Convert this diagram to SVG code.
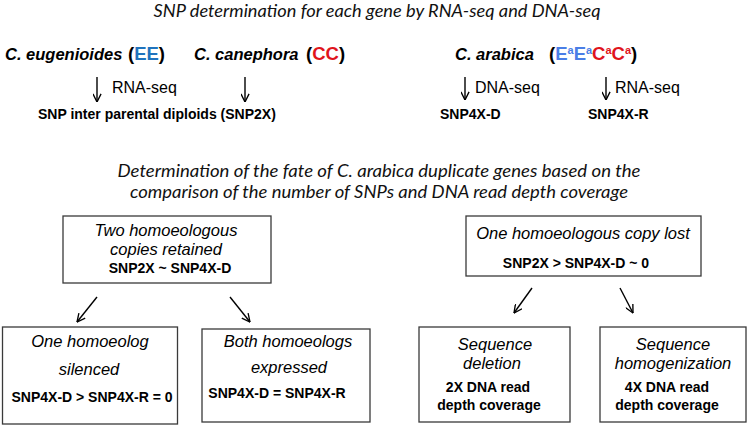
<svg xmlns="http://www.w3.org/2000/svg" width="749" height="426" viewBox="0 0 749 426">
<defs>
<style>
.t{font-family:"Liberation Sans",Arial,sans-serif;fill:#000}
.i{font-style:italic}
.b{font-weight:bold}
.bi{font-weight:bold;font-style:italic;font-size:16.5px}
.par{font-weight:bold;font-size:18.5px}
.hd{font-family:Lato,"Open Sans",sans-serif;font-style:italic;font-size:16.5px;fill:#111}
.seq{font-size:16px}
.sb{font-weight:bold;font-size:14px}
.bx{font-style:italic;font-size:16.5px}
.box{fill:#fff;stroke:#3a3a3a;stroke-width:1.3}
.arr{stroke:#000;stroke-width:1.4;fill:none;marker-end:url(#ah)}
.blue1{fill:#1f73bd}
.blue2{fill:#4a7ee6}
.red{fill:#e0141c}
</style>
<marker id="ah" viewBox="0 0 10 10" refX="9.5" refY="5" markerWidth="9" markerHeight="9" orient="auto" markerUnits="userSpaceOnUse">
<path d="M0.5,0.5 L9.5,5 L0.5,9.5" fill="none" stroke="#000" stroke-width="1.5"/>
</marker>
</defs>
<rect width="749" height="426" fill="#fff"/>

<g id="title">
<text class="hd" x="377" y="17" text-anchor="middle" textLength="447" lengthAdjust="spacingAndGlyphs">SNP determination for each gene by RNA-seq and DNA-seq</text>
</g>

<g id="species-eugenioides">
<text class="t bi" x="5" y="60">C. eugenioides</text>
<text class="t par" x="128" y="60">(<tspan class="blue1">EE</tspan>)</text>
</g>
<g id="species-canephora">
<text class="t bi" x="194" y="60">C. canephora</text>
<text class="t par" x="306" y="60">(<tspan class="red">CC</tspan>)</text>
</g>
<g id="species-arabica">
<text class="t bi" x="455" y="60">C. arabica</text>
<text class="t par" x="549" y="60">(<tspan class="blue2">E</tspan><tspan class="blue2" font-size="11" dy="-6">a</tspan><tspan class="blue2" dy="6">E</tspan><tspan class="blue2" font-size="11" dy="-6">a</tspan><tspan class="red" dy="6">C</tspan><tspan class="red" font-size="11" dy="-6">a</tspan><tspan class="red" dy="6">C</tspan><tspan class="red" font-size="11" dy="-6">a</tspan><tspan dy="6">)</tspan></text>
</g>

<g id="label-rnaseq-left"><text class="t seq" x="112" y="93">RNA-seq</text></g>
<g id="label-dnaseq"><text class="t seq" x="475" y="93">DNA-seq</text></g>
<g id="label-rnaseq-right"><text class="t seq" x="615" y="93">RNA-seq</text></g>

<g id="snp2x"><text class="t sb" x="38" y="119">SNP inter parental diploids (SNP2X)</text></g>
<g id="snp4xd"><text class="t sb" x="440" y="119">SNP4X-D</text></g>
<g id="snp4xr"><text class="t sb" x="588" y="119">SNP4X-R</text></g>

<g id="subtitle">
<text class="hd" x="379" y="177" text-anchor="middle" textLength="523" lengthAdjust="spacingAndGlyphs">Determination of the fate of C. arabica duplicate genes based on the</text>
<text class="hd" x="379" y="198" text-anchor="middle" textLength="498" lengthAdjust="spacingAndGlyphs">comparison of the number of SNPs and DNA read depth coverage</text>
</g>

<g id="box-retained">
<rect class="box" x="63" y="216" width="208" height="67"/>
<text class="t bx" x="166" y="236" text-anchor="middle">Two homoeologous</text>
<text class="t bx" x="166" y="255" text-anchor="middle">copies retained</text>
<text class="t sb" x="170" y="273" text-anchor="middle">SNP2X ~ SNP4X-D</text>
</g>

<g id="box-lost">
<rect class="box" x="466" y="216" width="235" height="60"/>
<text class="t bx" x="583" y="239" text-anchor="middle">One homoeologous copy lost</text>
<text class="t sb" x="576" y="268" text-anchor="middle">SNP2X &gt; SNP4X-D ~ 0</text>
</g>

<g id="box-silenced">
<rect class="box" x="2.5" y="327" width="175" height="97"/>
<text class="t bx" x="90" y="347" text-anchor="middle">One homoeolog</text>
<text class="t bx" x="89" y="375" text-anchor="middle">silenced</text>
<text class="t sb" x="92" y="402" text-anchor="middle">SNP4X-D &gt; SNP4X-R = 0</text>
</g>

<g id="box-expressed">
<rect class="box" x="202" y="329" width="168" height="93"/>
<text class="t bx" x="288" y="347" text-anchor="middle">Both homoeologs</text>
<text class="t bx" x="289" y="373" text-anchor="middle">expressed</text>
<text class="t sb" x="277" y="398" text-anchor="middle">SNP4X-D = SNP4X-R</text>
</g>

<g id="box-deletion">
<rect class="box" x="419" y="327" width="151" height="95"/>
<text class="t bx" x="495" y="350" text-anchor="middle">Sequence</text>
<text class="t bx" x="492" y="369" text-anchor="middle">deletion</text>
<text class="t sb" x="488" y="392" text-anchor="middle">2X DNA read</text>
<text class="t sb" x="489" y="410" text-anchor="middle">depth coverage</text>
</g>

<g id="box-homogenization">
<rect class="box" x="600" y="327" width="146" height="95"/>
<text class="t bx" x="673" y="350" text-anchor="middle">Sequence</text>
<text class="t bx" x="673" y="369" text-anchor="middle">homogenization</text>
<text class="t sb" x="667" y="392" text-anchor="middle">4X DNA read</text>
<text class="t sb" x="667" y="410" text-anchor="middle">depth coverage</text>
</g>

<g id="connectors">
<line class="arr" x1="97" y1="77" x2="97" y2="102"/>
<line class="arr" x1="245" y1="77" x2="245" y2="102"/>
<line class="arr" x1="465" y1="77" x2="465" y2="100"/>
<line class="arr" x1="606" y1="77" x2="606" y2="100"/>
<line class="arr" x1="97" y1="297" x2="77" y2="322"/>
<line class="arr" x1="230" y1="297" x2="250" y2="322"/>
<line class="arr" x1="532" y1="288" x2="514" y2="313"/>
<line class="arr" x1="620" y1="288" x2="633" y2="313"/>
</g>
</svg>
